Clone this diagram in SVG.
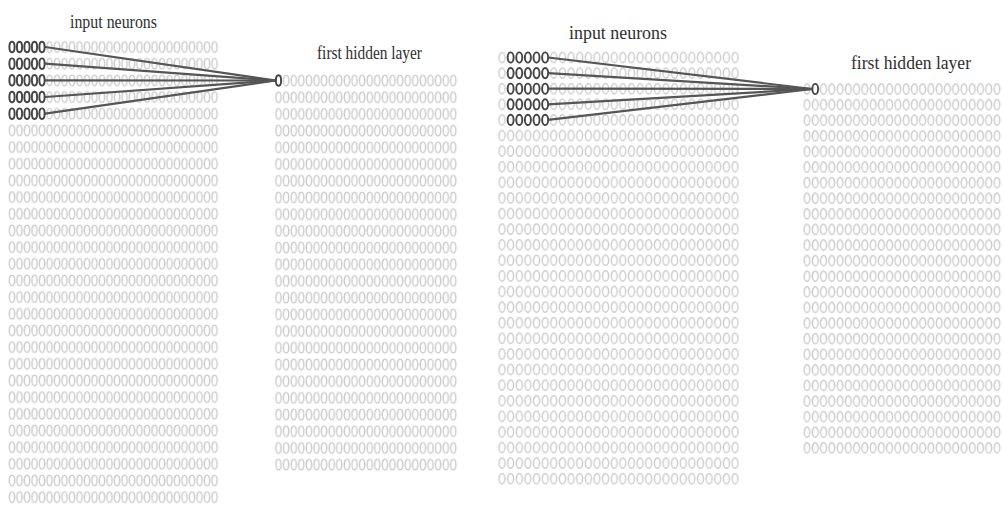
<svg xmlns="http://www.w3.org/2000/svg" width="1004" height="506" viewBox="0 0 1004 506">
<style>
.lbl{font-family:"Liberation Serif","DejaVu Serif",serif;fill:#303030}
.n{fill:none;stroke:#cbcbcb;stroke-width:1.4}
.b{fill:#fff;stroke:#444;stroke-width:1.9}
.c{stroke:#555;stroke-width:2.2;fill:none;stroke-linecap:round}
</style>
<defs>
<pattern id="pL" patternUnits="userSpaceOnUse" x="8.25" y="38.67" width="7.5" height="16.67">
<ellipse class="n" cx="3.75" cy="8.33" rx="2.6" ry="5.3"/>
</pattern>
<pattern id="pLH" patternUnits="userSpaceOnUse" x="274.7" y="72.15" width="7.6" height="16.7">
<ellipse class="n" cx="3.8" cy="8.35" rx="2.6" ry="5.3"/>
</pattern>
<pattern id="pR" patternUnits="userSpaceOnUse" x="497.685" y="49.7" width="8.63" height="15.6">
<ellipse class="n" cx="4.315" cy="7.8" rx="3" ry="5.1"/>
</pattern>
<pattern id="pRH" patternUnits="userSpaceOnUse" x="802.87" y="81.2" width="8.26" height="15.6">
<ellipse class="n" cx="4.13" cy="7.8" rx="2.9" ry="5.1"/>
</pattern>
</defs>
<rect width="1004" height="506" fill="#fff"/>

<g id="left-input-layer">
<text class="lbl" x="70" y="28" font-size="18" textLength="87" lengthAdjust="spacingAndGlyphs">input neurons</text>
<rect x="8.25" y="38.67" width="210" height="466.76" fill="url(#pL)"/>
</g>
<g id="left-hidden-layer">
<text class="lbl" x="317" y="59" font-size="18" textLength="105" lengthAdjust="spacingAndGlyphs">first hidden layer</text>
<rect x="274.7" y="72.15" width="182.4" height="400.8" fill="url(#pLH)"/>
</g>
<g id="right-input-layer">
<text class="lbl" x="569" y="39" font-size="19" textLength="98" lengthAdjust="spacingAndGlyphs">input neurons</text>
<rect x="497.685" y="49.7" width="241.64" height="436.8" fill="url(#pR)"/>
</g>
<g id="right-hidden-layer">
<text class="lbl" x="851" y="69" font-size="19" textLength="120" lengthAdjust="spacingAndGlyphs">first hidden layer</text>
<rect x="802.87" y="81.2" width="198.24" height="374.4" fill="url(#pRH)"/>
</g>

<g id="connectors">
<line class="c" x1="45" y1="47" x2="276" y2="80.5"/>
<line class="c" x1="45" y1="63.67" x2="276" y2="80.5"/>
<line class="c" x1="45" y1="80.33" x2="276" y2="80.5"/>
<line class="c" x1="45" y1="97" x2="276" y2="80.5"/>
<line class="c" x1="45" y1="113.67" x2="276" y2="80.5"/>
<line class="c" x1="548" y1="57.5" x2="812.5" y2="89"/>
<line class="c" x1="548" y1="73.1" x2="812.5" y2="89"/>
<line class="c" x1="548" y1="88.7" x2="812.5" y2="89"/>
<line class="c" x1="548" y1="104.3" x2="812.5" y2="89"/>
<line class="c" x1="548" y1="119.9" x2="812.5" y2="89"/>
</g>

<g id="left-receptive-field">
<g class="b">
<ellipse cx="12" cy="47" rx="2.6" ry="5.3"/><ellipse cx="19.5" cy="47" rx="2.6" ry="5.3"/><ellipse cx="27" cy="47" rx="2.6" ry="5.3"/><ellipse cx="34.5" cy="47" rx="2.6" ry="5.3"/><ellipse cx="42" cy="47" rx="2.6" ry="5.3"/>
<ellipse cx="12" cy="63.67" rx="2.6" ry="5.3"/><ellipse cx="19.5" cy="63.67" rx="2.6" ry="5.3"/><ellipse cx="27" cy="63.67" rx="2.6" ry="5.3"/><ellipse cx="34.5" cy="63.67" rx="2.6" ry="5.3"/><ellipse cx="42" cy="63.67" rx="2.6" ry="5.3"/>
<ellipse cx="12" cy="80.33" rx="2.6" ry="5.3"/><ellipse cx="19.5" cy="80.33" rx="2.6" ry="5.3"/><ellipse cx="27" cy="80.33" rx="2.6" ry="5.3"/><ellipse cx="34.5" cy="80.33" rx="2.6" ry="5.3"/><ellipse cx="42" cy="80.33" rx="2.6" ry="5.3"/>
<ellipse cx="12" cy="97" rx="2.6" ry="5.3"/><ellipse cx="19.5" cy="97" rx="2.6" ry="5.3"/><ellipse cx="27" cy="97" rx="2.6" ry="5.3"/><ellipse cx="34.5" cy="97" rx="2.6" ry="5.3"/><ellipse cx="42" cy="97" rx="2.6" ry="5.3"/>
<ellipse cx="12" cy="113.67" rx="2.6" ry="5.3"/><ellipse cx="19.5" cy="113.67" rx="2.6" ry="5.3"/><ellipse cx="27" cy="113.67" rx="2.6" ry="5.3"/><ellipse cx="34.5" cy="113.67" rx="2.6" ry="5.3"/><ellipse cx="42" cy="113.67" rx="2.6" ry="5.3"/>
</g>
</g>
<g id="left-hidden-neuron">
<ellipse class="b" cx="278.5" cy="80.5" rx="2.6" ry="5.3"/>
</g>

<g id="right-receptive-field">
<g class="b">
<ellipse cx="510.63" cy="57.5" rx="3" ry="5.1"/><ellipse cx="519.26" cy="57.5" rx="3" ry="5.1"/><ellipse cx="527.89" cy="57.5" rx="3" ry="5.1"/><ellipse cx="536.52" cy="57.5" rx="3" ry="5.1"/><ellipse cx="545.15" cy="57.5" rx="3" ry="5.1"/>
<ellipse cx="510.63" cy="73.1" rx="3" ry="5.1"/><ellipse cx="519.26" cy="73.1" rx="3" ry="5.1"/><ellipse cx="527.89" cy="73.1" rx="3" ry="5.1"/><ellipse cx="536.52" cy="73.1" rx="3" ry="5.1"/><ellipse cx="545.15" cy="73.1" rx="3" ry="5.1"/>
<ellipse cx="510.63" cy="88.7" rx="3" ry="5.1"/><ellipse cx="519.26" cy="88.7" rx="3" ry="5.1"/><ellipse cx="527.89" cy="88.7" rx="3" ry="5.1"/><ellipse cx="536.52" cy="88.7" rx="3" ry="5.1"/><ellipse cx="545.15" cy="88.7" rx="3" ry="5.1"/>
<ellipse cx="510.63" cy="104.3" rx="3" ry="5.1"/><ellipse cx="519.26" cy="104.3" rx="3" ry="5.1"/><ellipse cx="527.89" cy="104.3" rx="3" ry="5.1"/><ellipse cx="536.52" cy="104.3" rx="3" ry="5.1"/><ellipse cx="545.15" cy="104.3" rx="3" ry="5.1"/>
<ellipse cx="510.63" cy="119.9" rx="3" ry="5.1"/><ellipse cx="519.26" cy="119.9" rx="3" ry="5.1"/><ellipse cx="527.89" cy="119.9" rx="3" ry="5.1"/><ellipse cx="536.52" cy="119.9" rx="3" ry="5.1"/><ellipse cx="545.15" cy="119.9" rx="3" ry="5.1"/>
</g>
</g>
<g id="right-hidden-neuron">
<ellipse class="b" cx="815.26" cy="89" rx="2.9" ry="5.1"/>
</g>
</svg>
